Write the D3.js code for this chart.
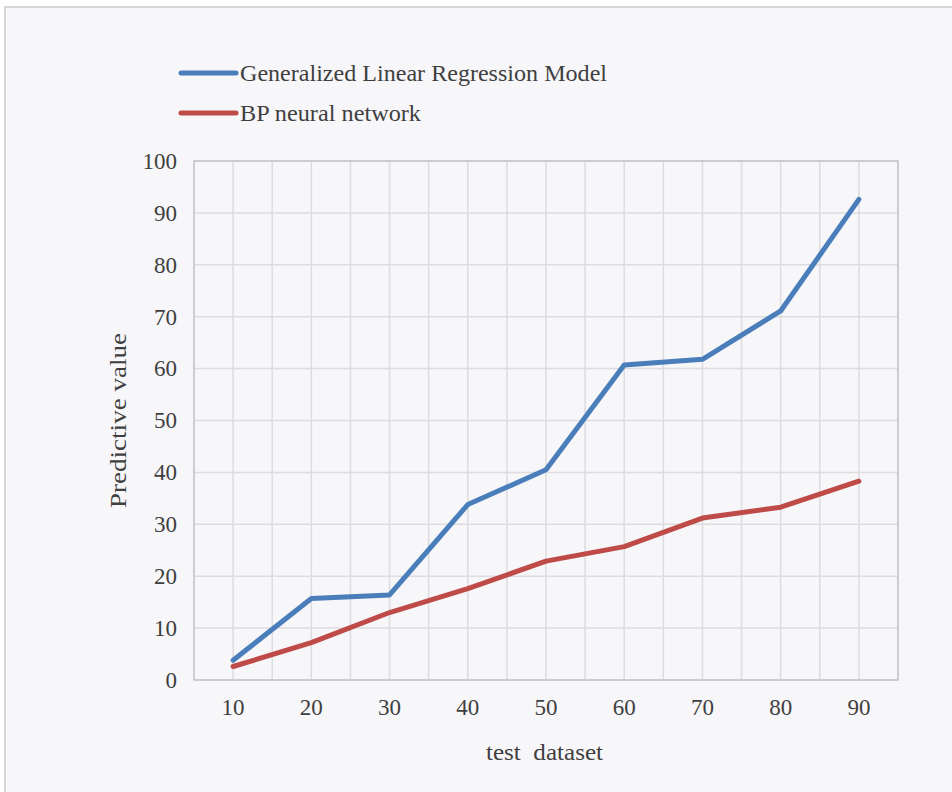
<!DOCTYPE html>
<html>
<head>
<meta charset="utf-8">
<script src="https://cdn.jsdelivr.net/npm/d3@7"></script>
<style>
  html, body { margin: 0; padding: 0; background: #ffffff; }
  svg { display: block; }
</style>
</head>
<body>
<script>
const categories = ["10", "20", "30", "40", "50", "60", "70", "80", "90"];
const glrmValues = [3.8, 15.7, 16.4, 33.8, 40.5, 60.7, 61.8, 71.1, 92.6];
const bpValues = [2.6, 7.2, 13.0, 17.6, 22.9, 25.7, 31.2, 33.3, 38.3];
const seriesNames = ["Generalized Linear Regression Model", "BP neural network"];
const seriesColors = ["#4a7ebb", "#be4b48"];
const yTicks = [0, 10, 20, 30, 40, 50, 60, 70, 80, 90, 100];

(function () {
const W = 952, H = 792;
const svg = d3.select("body").append("svg").attr("width", W).attr("height", H);

// outer panel
svg.append("rect").attr("x", 5).attr("y", 7).attr("width", W).attr("height", H)
  .attr("fill", "#f7f6f9").attr("stroke", "#d6d6d6").attr("stroke-width", 2);

const pLeft = 194, pRight = 898, pTop = 161, pBottom = 680;
const x = d3.scaleBand().domain(categories).range([pLeft, pRight]).padding(0);
const y = d3.scaleLinear().domain([0, 100]).range([pBottom, pTop]);
const font = "'Liberation Serif', 'Times New Roman', serif";
const textColor = "#3f3f3f";

// gridlines
const g = svg.append("g");
const vLines = [];
categories.forEach(c => { vLines.push(x(c)); vLines.push(x(c) + x.bandwidth() / 2); });
vLines.push(pRight);
g.selectAll("line.v").data(vLines).enter().append("line")
  .attr("x1", d => d).attr("x2", d => d).attr("y1", pTop).attr("y2", pBottom)
  .attr("stroke", "#dddcdf").attr("stroke-width", 1.5);
g.selectAll("line.h").data(yTicks).enter().append("line")
  .attr("x1", pLeft).attr("x2", pRight).attr("y1", d => y(d)).attr("y2", d => y(d))
  .attr("stroke", "#dddcdf").attr("stroke-width", 1.5);

// plot border
svg.append("rect").attr("x", pLeft).attr("y", pTop).attr("width", pRight - pLeft).attr("height", pBottom - pTop)
  .attr("fill", "none").attr("stroke", "#c6c5c8").attr("stroke-width", 1.5);

// y axis
const yAxis = d3.axisLeft(y).tickValues(yTicks).tickSize(0).tickPadding(17);
const ya = svg.append("g").attr("transform", `translate(${pLeft},0)`).call(yAxis);
ya.select(".domain").remove();
ya.selectAll("text").attr("font-family", font).attr("font-size", 23).attr("fill", textColor);

// x axis
const xAxis = d3.axisBottom(x).tickSize(0).tickPadding(19);
const xa = svg.append("g").attr("transform", `translate(0,${pBottom})`).call(xAxis);
xa.select(".domain").remove();
xa.selectAll("text").attr("font-family", font).attr("font-size", 23).attr("fill", textColor);

// axis titles
svg.append("text").attr("x", 486).attr("y", 760)
  .attr("font-family", font).attr("font-size", 24).attr("fill", textColor)
  .attr("textLength", 117).attr("lengthAdjust", "spacingAndGlyphs")
  .style("white-space", "pre").text("test  dataset");
svg.append("text").attr("transform", "translate(126,508) rotate(-90)")
  .attr("font-family", font).attr("font-size", 24).attr("fill", textColor)
  .attr("textLength", 175).attr("lengthAdjust", "spacingAndGlyphs")
  .text("Predictive value");

// lines
const line = d3.line().x((d, i) => x(categories[i]) + x.bandwidth() / 2).y(d => y(d));
[glrmValues, bpValues].forEach((vals, k) => {
  svg.append("path").datum(vals).attr("d", line).attr("fill", "none")
    .attr("stroke", seriesColors[k]).attr("stroke-width", 5)
    .attr("stroke-linejoin", "round").attr("stroke-linecap", "round");
});

// legend
const legendY = [73, 113];
const legendW = [367, 181];
seriesNames.forEach((name, k) => {
  svg.append("line").attr("x1", 181).attr("x2", 236).attr("y1", legendY[k]).attr("y2", legendY[k])
    .attr("stroke", seriesColors[k]).attr("stroke-width", 5).attr("stroke-linecap", "round");
  svg.append("text").attr("x", 240).attr("y", legendY[k] + 8)
    .attr("font-family", font).attr("font-size", 24).attr("fill", textColor)
    .attr("textLength", legendW[k]).attr("lengthAdjust", "spacingAndGlyphs")
    .text(name);
});
})();
</script>
</body>
</html>
